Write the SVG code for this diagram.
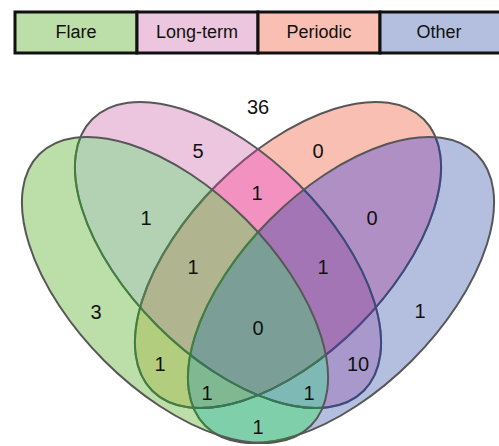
<svg xmlns="http://www.w3.org/2000/svg" width="499" height="446" viewBox="0 0 499 446">
<style>
.lg{stroke:#111;stroke-width:3}
.t{font-family:"Liberation Sans",Arial,sans-serif;fill:#111;text-anchor:middle;dominant-baseline:central}
.l{font-size:18px}
.n{font-size:20px}
.s{fill:none;stroke:#575757;stroke-width:2}
.tg{fill:none;stroke:#2f9a2f;stroke-width:2;stroke-opacity:0.6}
.tb{fill:none;stroke:#2a3f9a;stroke-width:2;stroke-opacity:0.6}
.tp{fill:none;stroke:#b0489a;stroke-width:2;stroke-opacity:0.5}
</style>
<defs>
<ellipse id="eO" cx="288" cy="255" rx="192" ry="100" transform="rotate(-45 288 255)"/>
<ellipse id="eP" cx="228" cy="255" rx="192" ry="100" transform="rotate(45 228 255)"/>
<ellipse id="eB" cx="341" cy="290" rx="192" ry="100" transform="rotate(-45 341 290)"/>
<ellipse id="eG" cx="175" cy="290" rx="192" ry="100" transform="rotate(45 175 290)"/>
<clipPath id="cO"><use href="#eO"/></clipPath>
<clipPath id="cP"><use href="#eP"/></clipPath>
<clipPath id="cB"><use href="#eB"/></clipPath>
<clipPath id="cG"><use href="#eG"/></clipPath>
</defs>
<rect width="499" height="446" fill="#fff"/>
<g id="legend">
<rect class="lg" x="15" y="12" width="122" height="41" fill="#bcdea8"/>
<rect class="lg" x="137" y="12" width="121" height="41" fill="#ecc6de"/>
<rect class="lg" x="258" y="12" width="122" height="41" fill="#f9bfb3"/>
<rect class="lg" x="380" y="12" width="122" height="41" fill="#b4bfe0"/>
<text class="t l" x="76" y="32">Flare</text>
<text class="t l" x="197" y="32">Long-term</text>
<text class="t l" x="319" y="32">Periodic</text>
<text class="t l" x="439" y="32">Other</text>
</g>
<g id="regions">
<use href="#eG" fill="#bcdea8"/>
<use href="#eP" fill="#ecc6de"/>
<use href="#eO" fill="#f9bfb3"/>
<use href="#eB" fill="#b4bfe0"/>
<g clip-path="url(#cG)"><use href="#eP" fill="#b3d2b4"/><use href="#eO" fill="#b3cd7e"/><use href="#eB" fill="#7fcfab"/></g>
<g clip-path="url(#cP)"><use href="#eO" fill="#f391c0"/><use href="#eB" fill="#a898cb"/></g>
<g clip-path="url(#cO)"><use href="#eB" fill="#b08fc4"/></g>
<g clip-path="url(#cG)"><g clip-path="url(#cP)"><use href="#eO" fill="#b0b48f"/><use href="#eB" fill="#7eb9b5"/></g><g clip-path="url(#cO)"><use href="#eB" fill="#80b991"/></g></g>
<g clip-path="url(#cP)"><g clip-path="url(#cO)"><use href="#eB" fill="#a375b5"/></g></g>
<g clip-path="url(#cG)"><g clip-path="url(#cP)"><g clip-path="url(#cO)"><use href="#eB" fill="#7b9f97"/></g></g></g>
</g>
<g id="outlines">
<g id="periodic"><use href="#eO" class="s"/><g clip-path="url(#cP)"><use href="#eO" class="tp"/></g><g clip-path="url(#cB)"><use href="#eO" class="tb"/></g><g clip-path="url(#cG)"><use href="#eO" class="tg"/></g></g>
<g id="longterm"><use href="#eP" class="s"/><g clip-path="url(#cB)"><use href="#eP" class="tb"/></g><g clip-path="url(#cG)"><use href="#eP" class="tg"/></g></g>
<g id="other"><use href="#eB" class="s"/><g clip-path="url(#cG)"><use href="#eB" class="tg"/></g></g>
<g id="flare"><use href="#eG" class="s"/></g>
</g>
<g id="counts">
<text class="t n" x="258" y="107">36</text>
<text class="t n" x="198" y="151">5</text>
<text class="t n" x="318" y="151">0</text>
<text class="t n" x="146" y="218">1</text>
<text class="t n" x="257" y="193">1</text>
<text class="t n" x="372" y="218">0</text>
<text class="t n" x="193" y="267">1</text>
<text class="t n" x="323" y="267">1</text>
<text class="t n" x="96" y="312">3</text>
<text class="t n" x="258" y="328">0</text>
<text class="t n" x="420" y="311">1</text>
<text class="t n" x="160" y="364">1</text>
<text class="t n" x="358" y="364">10</text>
<text class="t n" x="207" y="393">1</text>
<text class="t n" x="309" y="393">1</text>
<text class="t n" x="258" y="427">1</text>
</g>
</svg>
